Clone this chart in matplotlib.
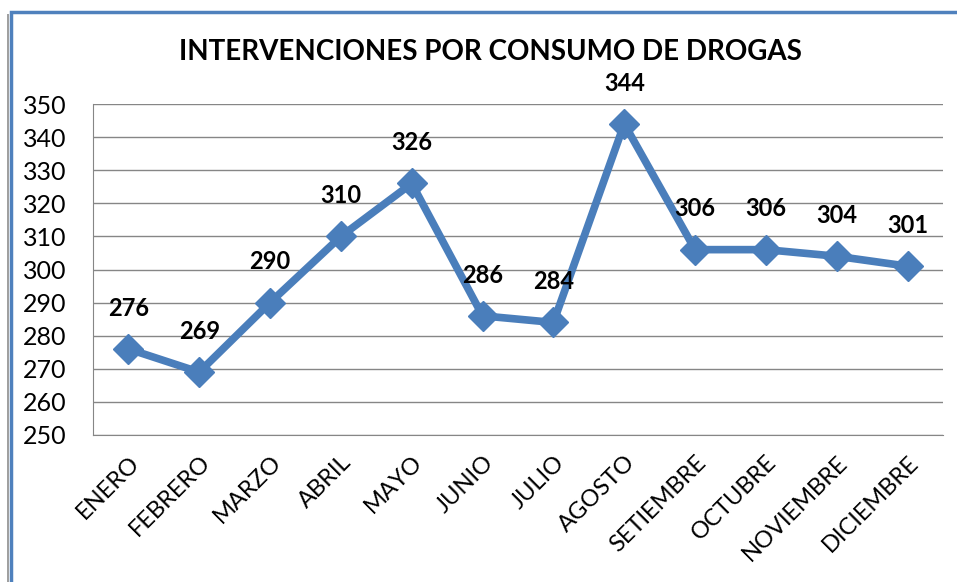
import numpy as np
import matplotlib.pyplot as plt
from matplotlib.patches import Rectangle

meses = ['ENERO', 'FEBRERO', 'MARZO', 'ABRIL', 'MAYO', 'JUNIO', 'JULIO',
         'AGOSTO', 'SETIEMBRE', 'OCTUBRE', 'NOVIEMBRE', 'DICIEMBRE']
intervenciones = [276, 269, 290, 310, 326, 286, 284, 344, 306, 306, 304, 301]
yticks = list(range(250, 351, 10))

plt.rcParams['font.family'] = ['Lato', 'DejaVu Sans']

fig = plt.figure(figsize=(9.57, 5.82), dpi=100)
ax = fig.add_axes([93/957, 1 - 435/582, 850/957, 331/582])

x = np.arange(len(meses))
ax.plot(x, intervenciones, color='#4A7EBB', lw=5.5, marker='D', ms=15,
        markerfacecolor='#4A7EBB', markeredgecolor='#4A7EBB', zorder=3)

for xi, v in zip(x, intervenciones):
    ax.annotate(str(v), (xi, v), xytext=(0, 21), textcoords='offset points',
                ha='center', va='bottom', fontsize=17, fontweight='bold')

ax.set_xlim(-0.5, len(meses) - 0.5)
ax.set_ylim(250, 350)
ax.set_yticks(yticks)
ax.yaxis.grid(True, color='#868686', lw=1)
ax.set_axisbelow(True)
ax.set_xticks(x)
ax.set_xticklabels(meses, rotation=45, ha='right', rotation_mode='anchor', fontsize=17)
ax.tick_params(axis='y', labelsize=18, length=0, pad=19)
ax.tick_params(axis='x', length=0, pad=12)
for s in ['top', 'right']:
    ax.spines[s].set_visible(False)
ax.spines['left'].set_color('#868686')
ax.spines['bottom'].set_color('#868686')

fig.text(490/957, 1 - 52/582, 'INTERVENCIONES POR CONSUMO DE DROGAS',
         ha='center', va='center', fontsize=20, fontweight='bold')

# marco del grafico
fig.patches.append(Rectangle((11/957, -0.1), 1.2, 1 - 12/582 + 0.1,
                             transform=fig.transFigure, fill=False,
                             edgecolor='#4F81BD', lw=2.5))
fig.patches.append(Rectangle((7/957, -0.1), 2/957, 1 - 14/582 + 0.1,
                             transform=fig.transFigure, color='#A0A0A0', lw=0))

fig.savefig('out.png', dpi=100)
